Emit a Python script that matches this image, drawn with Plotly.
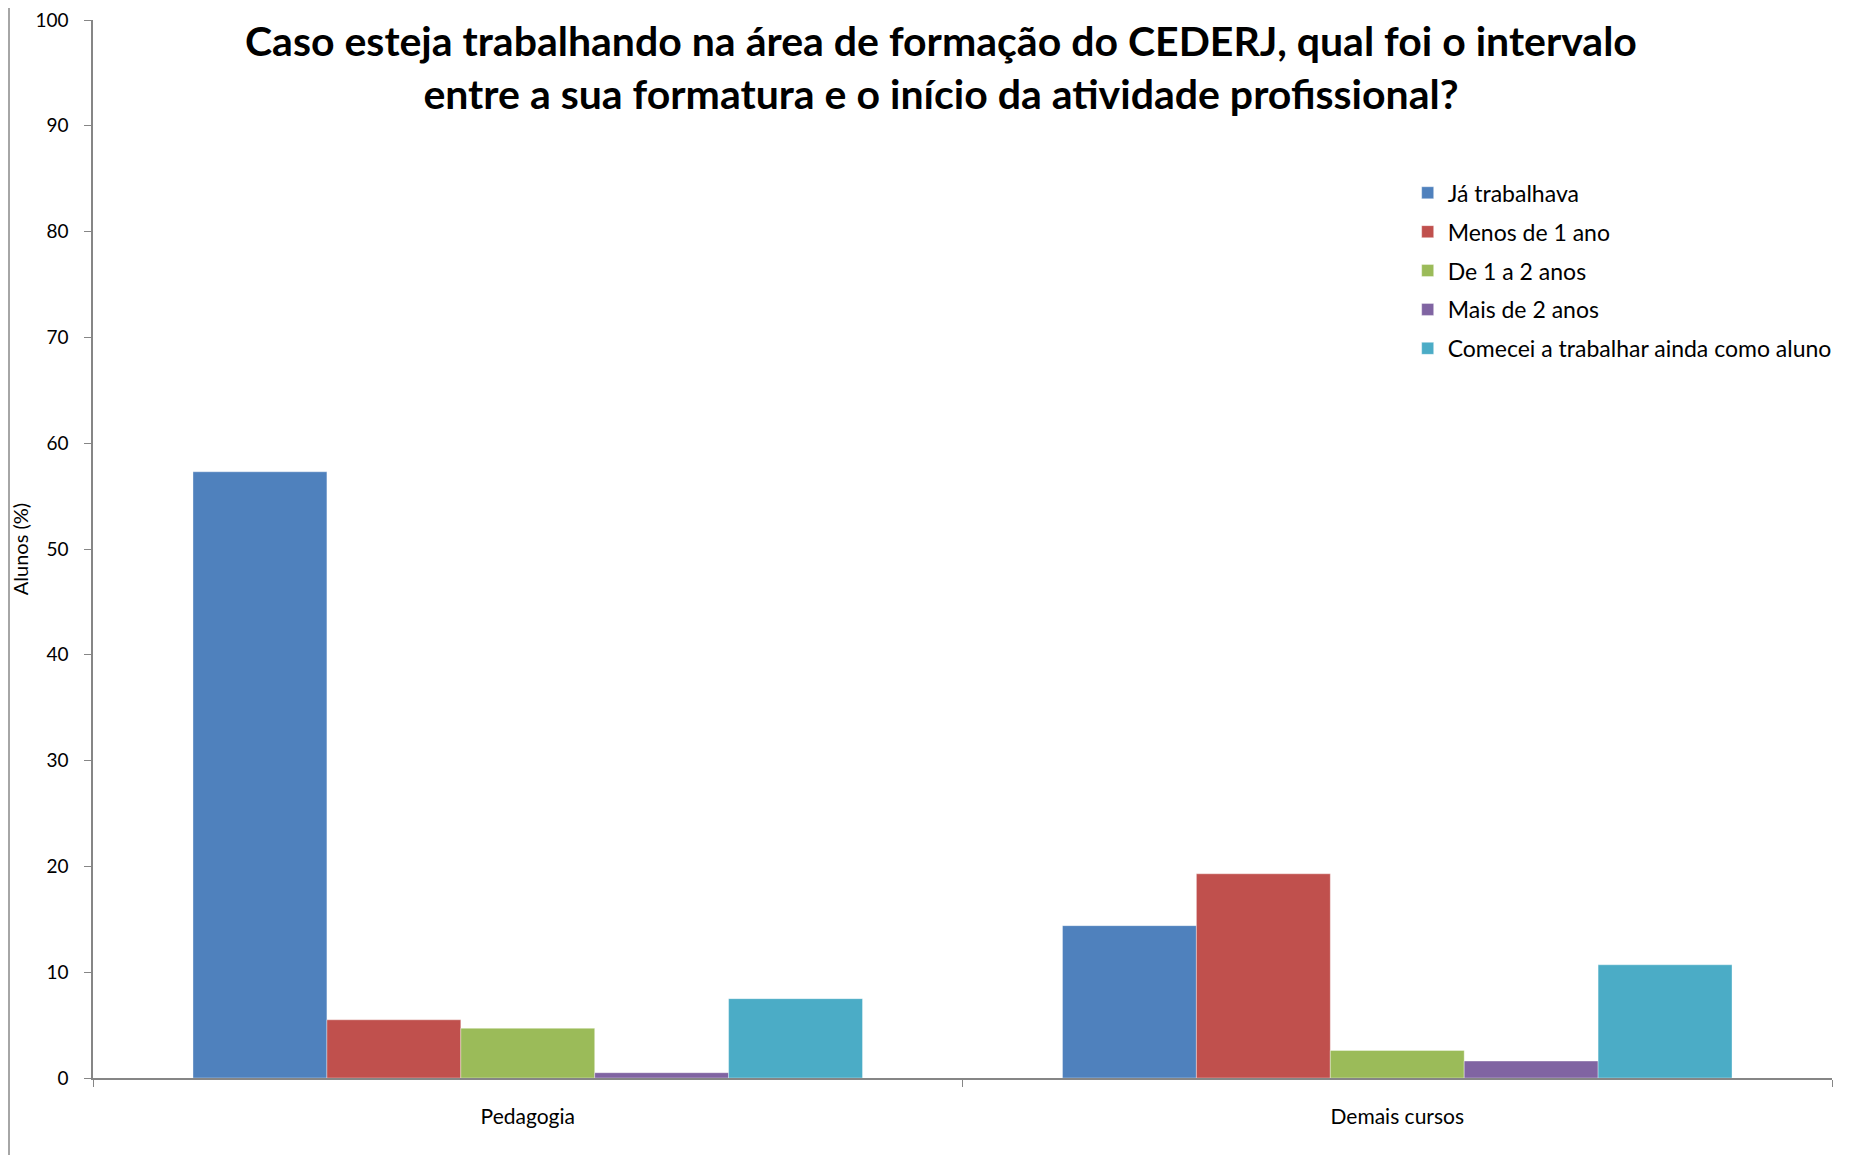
import plotly.graph_objects as go

categories = ["Pedagogia", "Demais cursos"]
series_names = ["Já trabalhava", "Menos de 1 ano", "De 1 a 2 anos", "Mais de 2 anos",
                "Comecei a trabalhar ainda como aluno"]
ja_trabalhava = [57.3, 14.4]
menos_1_ano = [5.5, 19.3]
de_1_a_2 = [4.7, 2.6]
mais_de_2 = [0.5, 1.6]
comecei_aluno = [7.5, 10.7]
y_ticks = [0, 10, 20, 30, 40, 50, 60, 70, 80, 90, 100]

series_values = [ja_trabalhava, menos_1_ano, de_1_a_2, mais_de_2, comecei_aluno]
colors = ["#4F81BD", "#C0504D", "#9BBB59", "#8064A2", "#4BACC6"]

FONT = "Lato"
fig = go.Figure()
for i, (name, vals, col) in enumerate(zip(series_names, series_values, colors)):
    fig.add_trace(go.Bar(
        x=categories, y=vals, name=name, legendgroup=f"g{i}",
        marker=dict(color=col, line=dict(width=0.6, color="rgba(255,255,255,0.6)")),
    ))

W, H = 1858, 1155
L, R, T, B = 85, 34, 12, 85
PW, PH = W - L - R, H - T - B
fig.update_layout(
    width=W, height=H,
    margin=dict(l=L, r=R, t=T, b=B, autoexpand=False),
    paper_bgcolor="white", plot_bgcolor="white",
    barmode="group", bargap=0.23, bargroupgap=0,
    font=dict(family=FONT, color="#000000"),
    showlegend=True,
    legend=dict(x=0.756, y=0.857, xanchor="left", yanchor="top",
                font=dict(size=23, family=FONT, color="#000"),
                tracegroupgap=6, itemwidth=30, bgcolor="rgba(0,0,0,0)"),
    annotations=[dict(
        text="<b>Caso esteja trabalhando na área de formação do CEDERJ, qual foi o intervalo<br>entre a sua formatura e o início da atividade profissional?</b>",
        x=0.4877, y=0.9555, xref="paper", yref="paper", xanchor="center", yanchor="middle",
        showarrow=False, font=dict(size=41, family=FONT, color="#000"))],
    shapes=[dict(type="line", xref="paper", yref="paper",
                 x0=(1 - L) / PW, x1=(1 - L) / PW,
                 y0=-B / PH, y1=(H - T) / PH,
                 line=dict(color="#A6A6A6", width=2))],
)
fig.update_yaxes(range=[0, 100], tickvals=y_ticks, ticks="outside", ticklen=7,
                 tickcolor="#868686", showline=True, linecolor="#868686", linewidth=1.5,
                 showgrid=False, zeroline=False, ticklabelstandoff=12,
                 ticklabeloverflow="allow", automargin=False,
                 tickfont=dict(size=19, family=FONT, color="#000"),
                 title=dict(text="Alunos (%)", font=dict(size=20, family=FONT, color="#000"), standoff=9))
fig.update_xaxes(ticks="outside", tickson="boundaries", ticklen=7, tickcolor="#868686",
                 showline=True, linecolor="#868686", linewidth=1.5, showgrid=False,
                 ticklabelstandoff=19, automargin=False,
                 tickfont=dict(size=21, family=FONT, color="#000"))
fig.write_html("out.html")
